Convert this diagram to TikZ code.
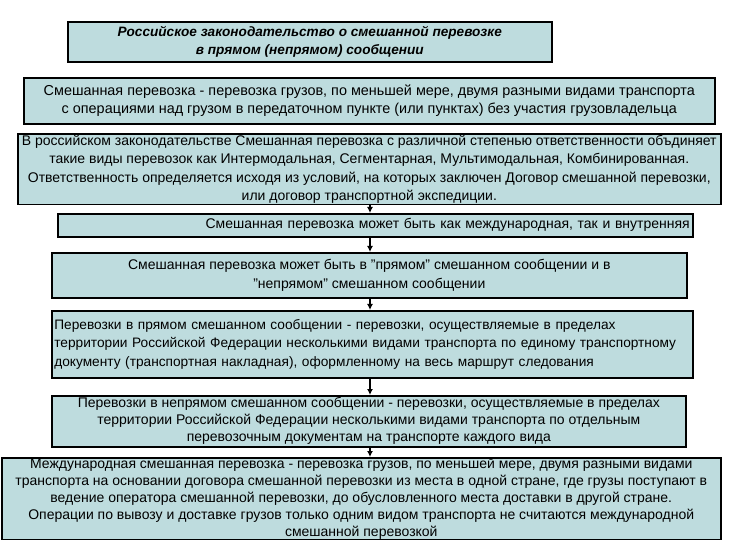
\documentclass[tikz,border=0pt]{standalone}
\usepackage{fontspec}
\setmainfont{Liberation Sans}
\usetikzlibrary{arrows.meta}
\definecolor{boxfill}{RGB}{190,220,222}
\tikzset{
  box/.style={draw=black, line width=1.6pt, fill=boxfill, inner sep=1pt, anchor=north west},
  arr/.style={line width=1.4pt, -{Latex[length=6pt,width=6pt]}},
  txt/.style={font=\fontsize{14}{18.5}\selectfont}
}
\begin{document}
\begin{tikzpicture}[x=1pt,y=-1pt]
\useasboundingbox (0,0) rectangle (737,540);
% boxes
\node[box, minimum width=484pt, minimum height=40pt, font=\fontsize{13.6}{18}\selectfont\bfseries\itshape, align=center] (T) at (67,21)
  {Российское законодательство о смешанной  перевозке\\в прямом (непрямом) сообщении};
\node[box, minimum width=691pt, minimum height=46pt, font=\fontsize{14.4}{18.5}\selectfont, align=center] (B2) at (23,77)
  {Смешанная перевозка - перевозка грузов, по меньшей мере, двумя разными видами транспорта\\с операциями над грузом в передаточном пункте (или пунктах) без участия грузовладельца};
\node[box, minimum width=703pt, minimum height=69pt, txt, align=center] (B3) at (17,133)
  {В российском законодательстве Смешанная перевозка с различной степенью ответственности объдиняет\\такие виды перевозок как  Интермодальная, Сегментарная, Мультимодальная, Комбинированная.\\Ответственность определяется исходя из условий, на которых заключен Договор смешанной перевозки,\\или договор транспортной экспедиции.};
\node[box, minimum width=635pt, minimum height=23pt, txt, text width=629pt, align=right] (B4) at (57,213)
  {Смешанная перевозка может быть как международная, так и внутренняя};
\node[box, minimum width=635pt, minimum height=45pt, txt, align=center] (B5) at (51,252)
  {Смешанная перевозка может быть в "прямом" смешанном сообщении и в\\"непрямом" смешанном сообщении};
\node[box, minimum width=641pt, minimum height=67pt, font=\fontsize{13.7}{18.5}\selectfont, text width=636pt, align=left] (B6) at (51,310)
  {Перевозки в прямом смешанном сообщении - перевозки, осуществляемые в пределах\\территории Российской Федерации несколькими видами транспорта по единому транспортному\\документу (транспортная накладная), оформленному на весь маршрут следования};
\node[box, minimum width=634pt, minimum height=51pt, font=\fontsize{14}{17}\selectfont, align=center] (B7) at (51,395)
  {Перевозки в непрямом смешанном сообщении - перевозки, осуществляемые в пределах\\территории Российской Федерации несколькими видами транспорта по отдельным\\перевозочным документам на транспорте каждого вида};
\node[box, minimum width=719pt, minimum height=82pt, font=\fontsize{14}{17}\selectfont, align=center, inner sep=0pt] (B8) at (1,457)
  {Международная смешанная перевозка - перевозка грузов, по меньшей мере, двумя разными видами\\транспорта на основании договора смешанной перевозки из места в одной стране, где грузы поступают в\\ведение оператора смешанной перевозки, до обусловленного места доставки в другой стране.\\Операции по вывозу и доставке грузов только одним видом транспорта не считаются международной\\смешанной перевозкой};
% arrows
\coordinate (A) at (370,0);
\draw[arr] (B3.south -| A) -- (B4.north -| A);
\draw[arr] (B4.south -| A) -- (B5.north -| A);
\draw[arr] (B5.south -| A) -- (B6.north -| A);
\draw[arr] (B6.south -| A) -- (B7.north -| A);
\draw[arr] (B7.south -| A) -- (B8.north -| A);
\end{tikzpicture}
\end{document}
